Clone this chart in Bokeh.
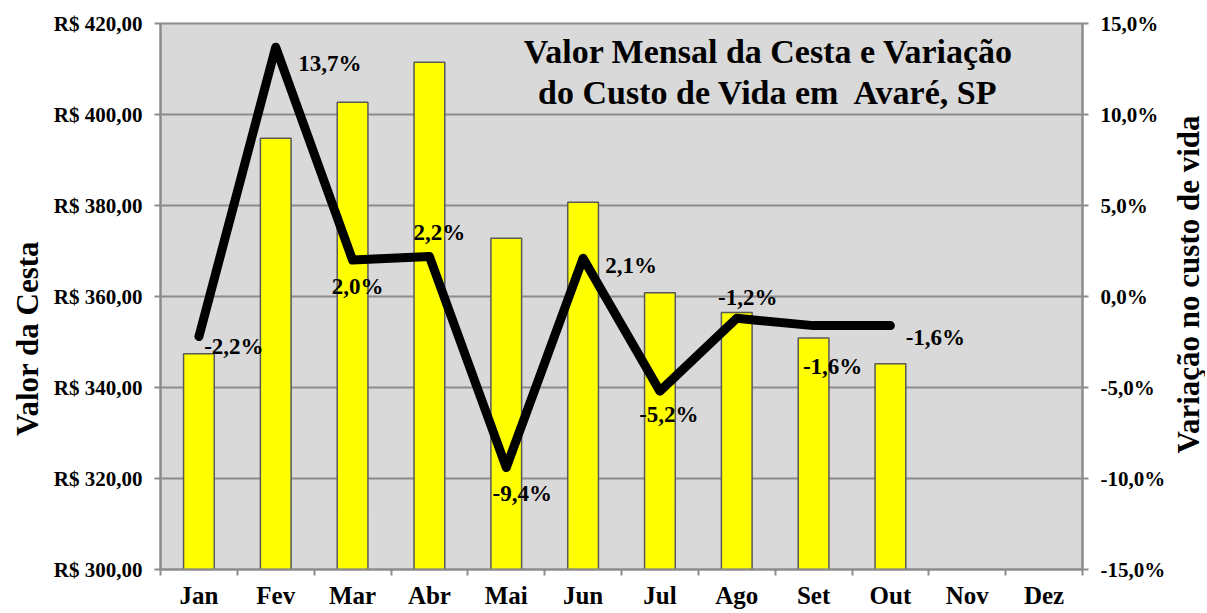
from math import pi
from bokeh.plotting import figure
from bokeh.layouts import row
from bokeh.models import Range1d, LinearAxis, FixedTicker, Label, ColumnDataSource
from bokeh.core.properties import value
from bokeh.embed import file_html
from bokeh.resources import INLINE

months = ["Jan", "Fev", "Mar", "Abr", "Mai", "Jun", "Jul", "Ago", "Set", "Out", "Nov", "Dez"]
cesta = [347.4, 394.8, 402.7, 411.5, 372.8, 380.7, 360.8, 356.5, 350.9, 345.2]
variacao = [-2.2, 13.7, 2.0, 2.2, -9.4, 2.1, -5.2, -1.2, -1.6, -1.6]
left_ticks = [300, 320, 340, 360, 380, 400, 420]
right_ticks = [-15, -10, -5, 0, 5, 10, 15]

# label placement (style only, pixels)
lab_dx = [35, 54, 5, 10, 16, 48, 9, 11, 19, 45]
lab_dy = [10, 16, 26, -24, 26, 7, 23, -21, 41, 12]

FONT = "Liberation Serif"
H = 611
LW, RW = 45, 34           # side strips holding the axis titles
MW = 1205 - LW - RW       # main figure width
FL, FT, FR, FB = 160, 23, 1082, 570  # frame edges on the page

p = figure(width=MW, height=H, output_backend="svg", toolbar_location=None,
           x_range=Range1d(0, len(months)), y_range=Range1d(300, 420),
           min_border_left=FL - LW, min_border_right=MW - (FR - LW),
           min_border_top=FT, min_border_bottom=H - FB)
p.extra_y_ranges = {"pct": Range1d(-15, 15)}
p.background_fill_color = "#d9d9d9"
p.border_fill_color = "white"
p.outline_line_color = "#8c8c8c"
p.outline_line_width = 2

# x axis
xs_mid = [i + 0.5 for i in range(len(months))]
p.xaxis.ticker = FixedTicker(ticks=xs_mid, minor_ticks=list(range(len(months) + 1)))
p.xaxis.major_label_overrides = {x: m for x, m in zip(xs_mid, months)}
p.xaxis.major_tick_out = 0
p.xaxis.major_tick_in = 0
p.xaxis.minor_tick_out = 6
p.xaxis.minor_tick_in = 0
p.xaxis.minor_tick_line_color = "#8c8c8c"
p.xaxis.minor_tick_line_width = 2
p.xaxis.axis_line_color = "#8c8c8c"
p.xaxis.axis_line_width = 2
p.xaxis.major_label_text_font = FONT
p.xaxis.major_label_text_font_style = "bold"
p.xaxis.major_label_text_font_size = "25px"
p.xaxis.major_label_text_color = "black"
p.xaxis.major_label_standoff = 6
p.xgrid.visible = False

# left axis
p.yaxis.ticker = FixedTicker(ticks=left_ticks, minor_ticks=[])
p.yaxis.major_label_overrides = {t: "R$ %d,00" % t for t in left_ticks}
p.ygrid.ticker = FixedTicker(ticks=left_ticks)
p.ygrid.grid_line_color = "#8c8c8c"
p.ygrid.grid_line_width = 2

ra = LinearAxis(y_range_name="pct", ticker=FixedTicker(ticks=right_ticks, minor_ticks=[]))
ra.major_label_overrides = {t: ("%.1f%%" % t).replace(".", ",") for t in right_ticks}
p.add_layout(ra, "right")

for ax in [p.yaxis[0], ra]:
    ax.major_tick_out = 6
    ax.major_tick_in = 0
    ax.minor_tick_out = 0
    ax.minor_tick_in = 0
    ax.major_tick_line_color = "#8c8c8c"
    ax.major_tick_line_width = 2
    ax.axis_line_color = "#8c8c8c"
    ax.axis_line_width = 2
    ax.major_label_text_font = FONT
    ax.major_label_text_font_style = "bold"
    ax.major_label_text_font_size = "21px"
    ax.major_label_text_color = "black"
    ax.major_label_standoff = 12

# bars
bsrc = ColumnDataSource(dict(x=xs_mid[:len(cesta)], top=cesta))
p.vbar(x="x", top="top", bottom=300, width=0.4, source=bsrc,
       fill_color="#ffff00", line_color="#595959", line_width=1.5)

# line
lsrc = ColumnDataSource(dict(x=xs_mid[:len(variacao)], y=variacao,
                             txt=[("%.1f%%" % v).replace(".", ",") for v in variacao],
                             dx=lab_dx, dy=lab_dy))
p.line(x="x", y="y", source=lsrc, y_range_name="pct", line_color="black",
       line_width=9, line_join="round", line_cap="round")
p.text(x="x", y="y", text="txt", source=lsrc, y_range_name="pct",
       x_offset="dx", y_offset="dy", text_align="center", text_baseline="middle",
       text_font=value(FONT), text_font_style="bold", text_font_size="23px",
       text_color="black")


def make_label(x, y, text, size, angle=0.0):
    return Label(x=x, y=y, x_units="screen", y_units="screen",
                 text=text, angle=angle, text_align="center", text_baseline="middle",
                 text_font=FONT, text_font_style="bold", text_font_size=size,
                 text_color="black")


# chart title (inside the plot area; frame-relative screen units)
p.add_layout(make_label(768 - FL, FB - 52, "Valor Mensal da Cesta e Variação", "34px"))
p.add_layout(make_label(768 - FL, FB - 93, "do Custo de Vida em\u00a0 Avaré, SP", "34px"))


def side_strip(width, text, cx, cy):
    # the row aligns this strip's frame with the main frame (top FT, bottom FB)
    s = figure(width=width, height=H, output_backend="svg", toolbar_location=None,
               x_range=Range1d(0, 1), y_range=Range1d(0, 1), min_border=0)
    s.axis.visible = False
    s.grid.visible = False
    s.outline_line_color = None
    s.background_fill_color = "white"
    s.border_fill_color = "white"
    s.add_layout(make_label(cx, FB - cy, text, "31px", pi / 2))
    return s


left_strip = side_strip(LW, "Valor da Cesta", 27, 339)
right_strip = side_strip(RW, "Variação no custo de vida", 1188 - (LW + MW), 285)

layout = row(left_strip, p, right_strip, spacing=0)
open("out.html", "w").write(file_html(layout, INLINE))
